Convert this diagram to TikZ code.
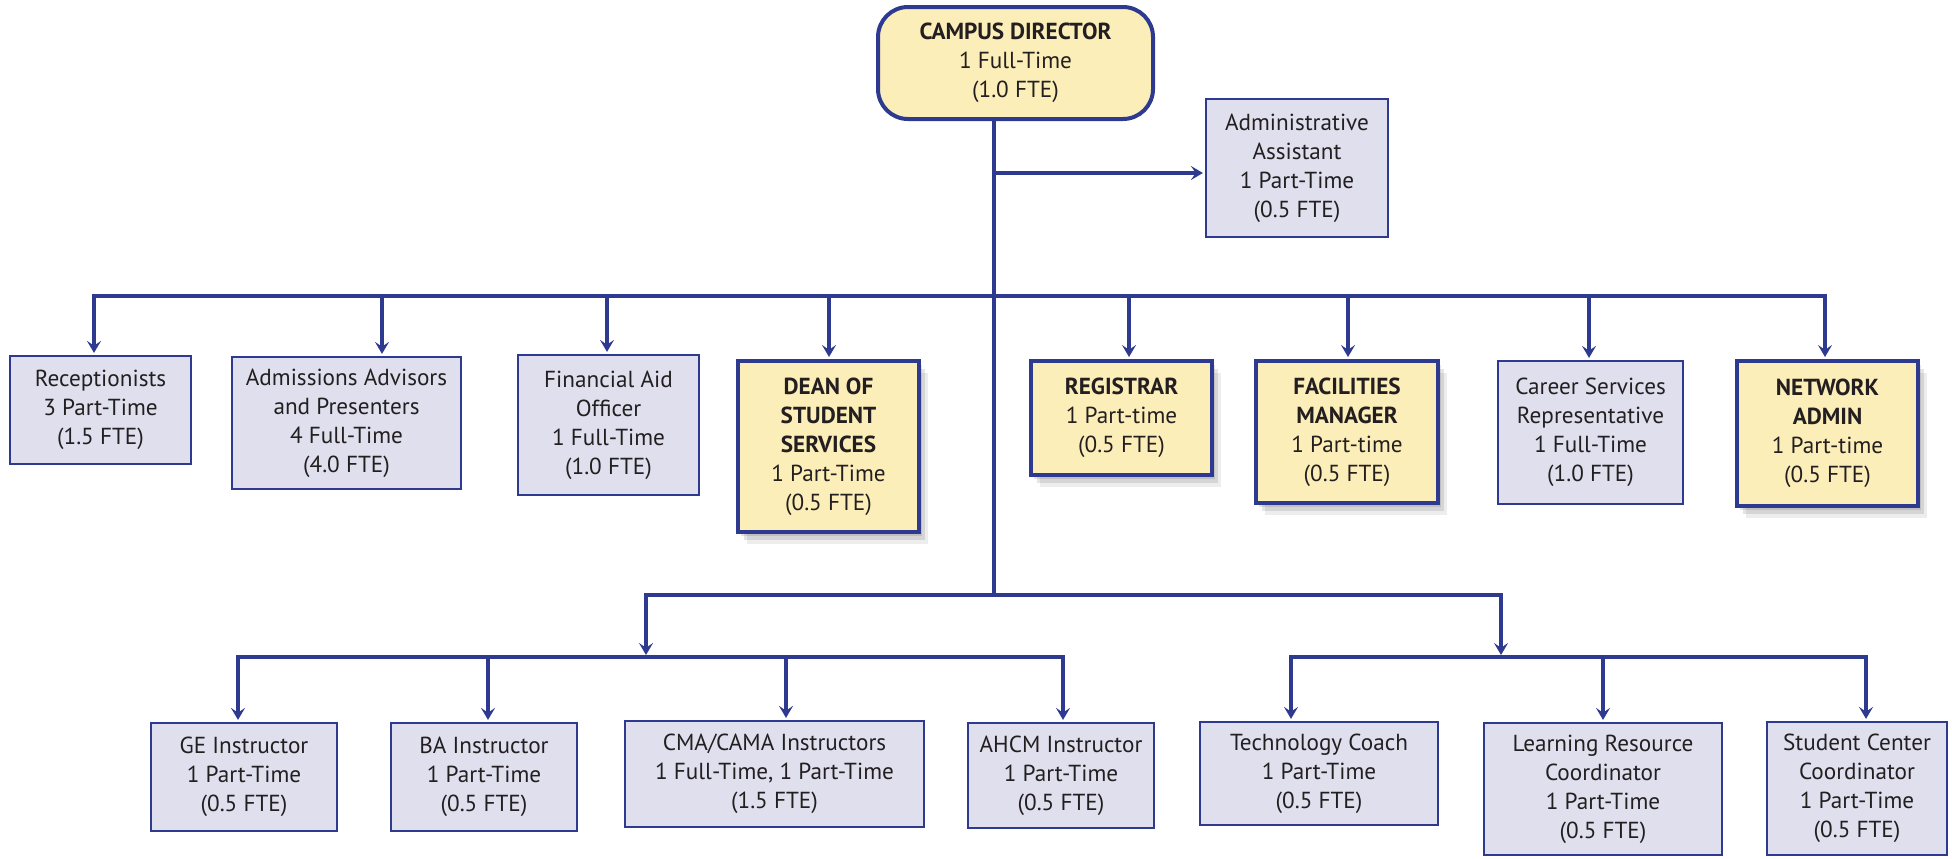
\documentclass[tikz,border=0pt]{standalone}
\usepackage{fontspec}
\setmainfont{PT Sans}
\usetikzlibrary{arrows.meta,shadows}
\definecolor{lnblue}{HTML}{2E3A8F}
\definecolor{lav}{HTML}{DFDFEE}
\definecolor{ylw}{HTML}{FCEEB8}
\definecolor{txt}{HTML}{231F20}
\newcommand\orgbox[7]{%
  \pgfmathsetmacro\obcx{(#2+#4)/2}\pgfmathsetmacro\obcy{(#3+#5)/2}%
  \pgfmathsetmacro\obww{(#4-#2)/2}\pgfmathsetmacro\obhh{(#5-#3)/2}%
  \node[#6, minimum width=\obww pt, minimum height=\obhh pt] (#1) at (\obcx,\obcy) {#7};}
\begin{document}
\begin{tikzpicture}[x=0.5pt,y=-0.5pt,
  base/.style={draw=lnblue, align=center, inner sep=0pt, text=txt, font=\fontsize{11.6}{14.5}\selectfont},
  plainbox/.style={base, fill=lav, line width=1.1pt},
  shad/.style={drop shadow={shadow xshift=1.5pt,shadow yshift=-2pt,opacity=.10,fill=black},
               drop shadow={shadow xshift=3pt,shadow yshift=-4pt,opacity=.10,fill=black},
               drop shadow={shadow xshift=4.5pt,shadow yshift=-6pt,opacity=.07,fill=black}},
  keybox/.style={base, fill=ylw, line width=2pt, shad},
  ln/.style={draw=lnblue, line width=1.6pt, line cap=rect},
  arr/.style={draw=lnblue, line width=1.6pt, -{Stealth[length=6pt,width=7pt,inset=2.4pt]}, shorten >=1pt}]
\useasboundingbox (0,0) rectangle (1952,858);
% top
\orgbox{cd}{878}{7}{1153}{119}{base, fill=ylw, line width=2pt, rounded corners=15pt}{\textbf{CAMPUS DIRECTOR}\\1 Full-Time\\(1.0 FTE)}
\orgbox{admin}{1206}{99}{1388}{237}{plainbox}{Administrative\\Assistant\\1 Part-Time\\(0.5 FTE)}
% middle row
\orgbox{recep}{10}{356}{191}{464}{plainbox}{Receptionists\\3 Part-Time\\(1.5 FTE)}
\orgbox{adm}{232}{357}{461}{489}{plainbox}{Admissions Advisors\\and Presenters\\4 Full-Time\\(4.0 FTE)}
\orgbox{fin}{518}{355}{699}{495}{plainbox}{Financial Aid\\Officer\\1 Full-Time\\(1.0 FTE)}
\orgbox{dean}{738}{361}{919}{532}{keybox}{\textbf{DEAN OF}\\\textbf{STUDENT}\\\textbf{SERVICES}\\1 Part-Time\\(0.5 FTE)}
\orgbox{reg}{1031}{361}{1212}{475}{keybox}{\textbf{REGISTRAR}\\1 Part-time\\(0.5 FTE)}
\orgbox{fac}{1256}{361}{1438}{503}{keybox}{\textbf{FACILITIES}\\\textbf{MANAGER}\\1 Part-time\\(0.5 FTE)}
\orgbox{car}{1498}{361}{1683}{504}{plainbox}{Career Services\\Representative\\1 Full-Time\\(1.0 FTE)}
\orgbox{net}{1737}{361}{1918}{506}{keybox}{\textbf{NETWORK}\\\textbf{ADMIN}\\1 Part-time\\(0.5 FTE)}
% bottom row
\orgbox{ge}{151}{723}{337}{831}{plainbox}{GE Instructor\\1 Part-Time\\(0.5 FTE)}
\orgbox{ba}{391}{723}{577}{831}{plainbox}{BA Instructor\\1 Part-Time\\(0.5 FTE)}
\orgbox{cma}{625}{721}{924}{827}{plainbox}{CMA/CAMA Instructors\\1 Full-Time, 1 Part-Time\\(1.5 FTE)}
\orgbox{ahcm}{968}{723}{1154}{828}{plainbox}{AHCM Instructor\\1 Part-Time\\(0.5 FTE)}
\orgbox{tech}{1200}{722}{1438}{825}{plainbox}{Technology Coach\\1 Part-Time\\(0.5 FTE)}
\orgbox{lrc}{1484}{723}{1722}{855}{plainbox}{Learning Resource\\Coordinator\\1 Part-Time\\(0.5 FTE)}
\orgbox{scc}{1767}{722}{1947}{855}{plainbox}{Student Center\\Coordinator\\1 Part-Time\\(0.5 FTE)}
% connector coordinates
\coordinate (trunk) at (994,595);
\coordinate (ad) at (994,173);
\coordinate (d1) at (94,296);
\coordinate (d2) at (382,296);
\coordinate (d3) at (607,296);
\coordinate (d4) at (829,296);
\coordinate (d5) at (1129,296);
\coordinate (d6) at (1348,296);
\coordinate (d7) at (1589,296);
\coordinate (d8) at (1825,296);
\coordinate (l2a) at (646,595);
\coordinate (l2b) at (1501,595);
\coordinate (sa) at (238,657);
\coordinate (sb) at (488,657);
\coordinate (sc) at (786,657);
\coordinate (sd) at (1063,657);
\coordinate (se) at (1291,657);
\coordinate (sf) at (1603,657);
\coordinate (sg) at (1866,657);
% connectors
\draw[ln] (cd.south -| trunk) -- (trunk);
\draw[arr] (ad) -- (ad -| admin.west);
\draw[ln] (d1) -- (d8);
\foreach \d/\b in {d1/recep,d2/adm,d3/fin,d4/dean,d5/reg,d6/fac,d7/car,d8/net}
  \draw[arr] (\d) -- (\d |- \b.north);
\draw[ln] (l2a) -- (l2b);
\draw[arr] (l2a) -- (l2a |- sa);
\draw[arr] (l2b) -- (l2b |- se);
\draw[ln] (sa) -- (sd);
\draw[ln] (se) -- (sg);
\foreach \d/\b in {sa/ge,sb/ba,sc/cma,sd/ahcm,se/tech,sf/lrc,sg/scc}
  \draw[arr] (\d) -- (\d |- \b.north);
\end{tikzpicture}
\end{document}
